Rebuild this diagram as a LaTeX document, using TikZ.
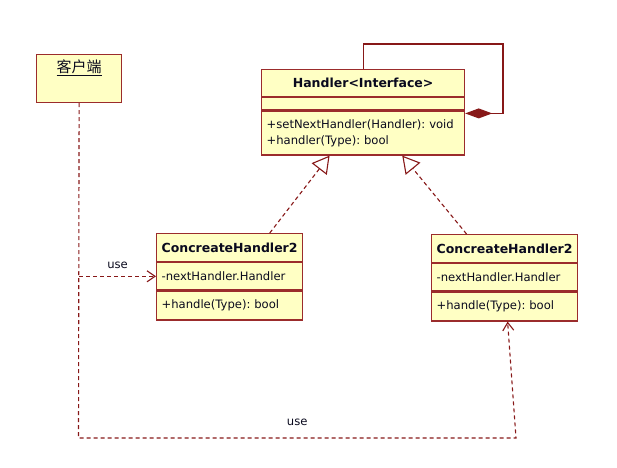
\documentclass[tikz,border=0pt]{standalone}
\usepackage{fontspec}
\setmainfont{DejaVu Sans}
\newfontfamily\cjk{Noto Sans CJK SC}
\usetikzlibrary{positioning,arrows.meta}
\frenchspacing
\definecolor{umlborder}{RGB}{155,44,44}
\definecolor{umlfill}{RGB}{255,255,196}
\definecolor{umlline}{RGB}{135,24,24}
\definecolor{umltext}{RGB}{10,10,30}
\tikzset{
    classhead/.style={draw=umlborder,fill=umlfill,line width=1.2pt,anchor=north west,inner xsep=5pt,inner ysep=0pt,align=center,text=umltext,font=\bfseries\fontsize{12.5}{15}\selectfont},
    classpart/.style={draw=umlborder,fill=umlfill,line width=1.2pt,inner xsep=5pt,inner ysep=0pt,align=left,text=umltext,font=\fontsize{11.6}{16}\selectfont},
    clientbox/.style={draw=umlborder,fill=umlfill,line width=1.2pt,anchor=north west,minimum width=85pt,minimum height=48pt},
    usedep/.style={umlline,line width=1.1pt,dash pattern=on 4pt off 3pt,-{Straight Barb[length=8pt,width=11pt]}},
    realize/.style={umlline,line width=1.1pt,dash pattern=on 4pt off 3pt,-{Triangle[open,length=17pt,width=19pt,fill=white]}},
    compose/.style={umlline,line width=1.2pt,{Diamond[length=27pt,width=10pt]}-},
    uselabel/.style={text=umltext,font=\fontsize{11.6}{14}\selectfont}
}
\newcommand\ClassBox[9]{%
    \node[classhead,text width=#3,minimum height=#4] (#1) at (#2) {#5};
    \node[classpart,text width=#3,minimum height=#6,below=0pt of #1] (#1Attr) {#7};
    \node[classpart,text width=#3,minimum height=#8,below=0pt of #1Attr] (#1Ops) {#9};
}

\begin{document}
\begin{tikzpicture}[x=1pt,y=-1pt]
    \useasboundingbox (0,0) rectangle (617,467);
    \node[clientbox] (Client) at (36,54) {};
    \node[font=\cjk\fontsize{15}{17}\selectfont,text=umltext] (ClientName) at ([yshift=-14pt]Client.north) {\underline{客户端}};
    \ClassBox{Handler}{261,69}{193pt}{27pt}{Handler<Interface>}{12pt}{}{44pt}{+setNextHandler(Handler): void\\+handler(Type): bool}
    \ClassBox{CHLeft}{156,233}{136pt}{28pt}{ConcreateHandler2}{27pt}{-nextHandler.Handler}{29pt}{+handle(Type): bool}
    \ClassBox{CHRight}{431,234}{136pt}{28pt}{ConcreateHandler2}{27pt}{-nextHandler.Handler}{29pt}{+handle(Type): bool}
    \coordinate (LoopCorner) at (503,44);
    \coordinate (UseBottom) at (78.5,438);
    \coordinate (UseCorner) at (516,438);
    \draw[compose] ([yshift=-3pt]HandlerOps.north east) -| (LoopCorner) -| (Handler.north);
    \draw[realize] (CHLeft.20) -- (HandlerOps.214);
    \draw[realize] (CHRight.159) -- (HandlerOps.330);
    \draw[usedep] (Client.south) -- (UseBottom) -- node[uselabel,above=8pt] {use} (UseCorner) -- ([xshift=3pt]CHRightOps.south);
    \draw[usedep] (Client.south |- CHLeftAttr.west) -- node[uselabel,above=4pt] {use} (CHLeftAttr.west);
\end{tikzpicture}
\end{document}
